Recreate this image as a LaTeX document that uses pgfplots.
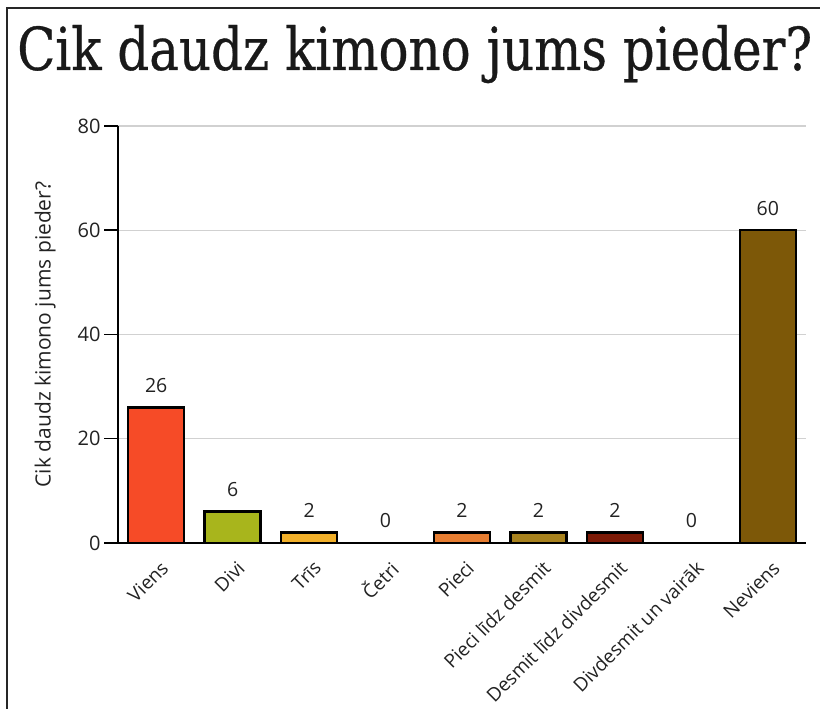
\documentclass[border=0pt]{standalone}
\usepackage{pgfplots}
\pgfplotsset{compat=1.18}
\usepackage{fontspec}
\setmainfont{Open Sans}
\newfontfamily\titlefont[FakeBold=0.6]{DejaVu Serif}
\definecolor{cViens}{HTML}{F64B27}
\definecolor{cDivi}{HTML}{A8B51C}
\definecolor{cTris}{HTML}{F2B02A}
\definecolor{cPieci}{HTML}{E77D31}
\definecolor{cPL}{HTML}{A8821E}
\definecolor{cDL}{HTML}{7D1A06}
\definecolor{cNev}{HTML}{7D5808}
\definecolor{txt}{HTML}{222222}
\begin{document}
\begin{tikzpicture}
\useasboundingbox (0,0) rectangle (820pt,709pt);
\draw[line width=2pt, black!85] (7pt,0) -- (7pt,701pt) -- (820pt,701pt);
\node[anchor=base west, inner sep=0pt, text=black!90] at (17pt,639pt) {\resizebox{795pt}{45pt}{\titlefont Cik daudz kimono jums pieder?}};
\begin{axis}[
  at={(118pt,166pt)}, anchor=south west,
  scale only axis, width=688pt, height=417pt,
  xmin=-0.5, xmax=8.5, ymin=0, ymax=80,
  axis lines*=left,
  axis line style={line width=2.6pt, black},
  ybar, bar width=56pt, bar shift=0pt,
  ytick={0,20,40,60,80},
  ymajorgrids, grid style={color=black!18, line width=1.2pt},
  tick align=outside, major tick length=14pt, minor tick length=14pt,
  ytick style={line width=1.5pt, black},
  xtick={0,...,8},
  xtick style={draw=none},
  minor xtick={-0.5,0.5,...,8.5},
  minor x tick style={line width=1.5pt, black},
  xticklabels={Viens,Divi,Trīs,Četri,Pieci,Pieci līdz desmit,Desmit līdz divdesmit,Divdesmit un vairāk,Neviens},
  xticklabel style={rotate=45, anchor=east, font=\fontsize{19}{22}\selectfont, text=txt, xshift=4pt, yshift=-11.5pt},
  yticklabel style={font=\fontsize{20}{23}\selectfont, text=txt},
  /pgf/number format/assume math mode=true,
  ylabel={Cik daudz kimono jums pieder?},
  ylabel style={at={(axis description cs:-0.106,0.5)}, anchor=center, font=\fontsize{21}{24}\selectfont, text=txt},
  nodes near coords,
  every node near coord/.append style={anchor=center, yshift=22pt, font=\fontsize{19.5}{22}\selectfont, text=txt},
  clip=false,
]
\addplot[fill=cViens, draw=black, line width=2.5pt] coordinates {(0,26)};
\addplot[fill=cDivi, draw=black, line width=2.5pt] coordinates {(1,6)};
\addplot[fill=cTris, draw=black, line width=2.5pt] coordinates {(2,2)};
\addplot[fill=none, draw=none] coordinates {(3,0)};
\addplot[fill=cPieci, draw=black, line width=2.5pt] coordinates {(4,2)};
\addplot[fill=cPL, draw=black, line width=2.5pt] coordinates {(5,2)};
\addplot[fill=cDL, draw=black, line width=2.5pt] coordinates {(6,2)};
\addplot[fill=none, draw=none] coordinates {(7,0)};
\addplot[fill=cNev, draw=black, line width=2.5pt] coordinates {(8,60)};
\end{axis}
\end{tikzpicture}
\end{document}
